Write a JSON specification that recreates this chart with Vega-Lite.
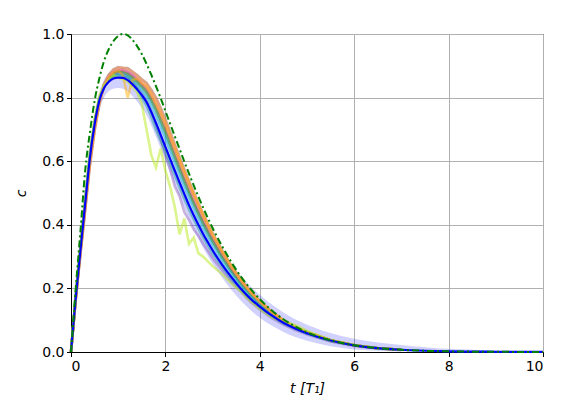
{
  "$schema": "https://vega.github.io/schema/vega-lite/v6.json",
  "width": 472,
  "height": 318,
  "autosize": "none",
  "padding": {"left": 71, "top": 34, "right": 43, "bottom": 51},
  "background": "white",
  "config": {
    "font": "DejaVu Sans",
    "view": {"stroke": "black", "strokeWidth": 1},
    "axis": {
      "domainColor": "black", "tickColor": "black", "tickSize": 4.5, "labelPadding": 2.5,
      "labelFontSize": 14, "labelColor": "black", "titleFontSize": 14, "titleColor": "black",
      "titleFontWeight": "normal", "titleFontStyle": "italic",
      "gridColor": "#b0b0b0", "gridWidth": 1, "gridOpacity": 1
    }
  },
  "datasets": {
    "m": [
      {"t":0,"g":0,"b":0,"lo":0,"hi":0,"a":0,"o":0,"r":0,"d":0,"c":0,"y":0,"n":0,"p":0,"v":0,"u":0,"e":0},
      {"t":0.05,"g":0.10,"b":0.085,"lo":0.078,"hi":0.092,"a":0.083,"o":0.082,"r":0.081,"d":0.084,"c":0.087,"y":0.085,"n":0.086,"p":0.088,"v":0.09,"u":0.084,"e":0.087},
      {"t":0.1,"g":0.20,"b":0.17,"lo":0.158,"hi":0.182,"a":0.166,"o":0.164,"r":0.163,"d":0.168,"c":0.173,"y":0.17,"n":0.171,"p":0.176,"v":0.18,"u":0.167,"e":0.174},
      {"t":0.15,"g":0.29,"b":0.245,"lo":0.23,"hi":0.26,"a":0.24,"o":0.237,"r":0.236,"d":0.243,"c":0.249,"y":0.245,"n":0.247,"p":0.252,"v":0.258,"u":0.241,"e":0.25},
      {"t":0.2,"g":0.38,"b":0.32,"lo":0.30,"hi":0.34,"a":0.313,"o":0.309,"r":0.307,"d":0.316,"c":0.325,"y":0.32,"n":0.322,"p":0.33,"v":0.336,"u":0.314,"e":0.326},
      {"t":0.3,"g":0.57,"b":0.465,"lo":0.44,"hi":0.49,"a":0.452,"o":0.447,"r":0.445,"d":0.458,"c":0.472,"y":0.463,"n":0.467,"p":0.478,"v":0.485,"u":0.455,"e":0.474},
      {"t":0.4,"g":0.69,"b":0.61,"lo":0.58,"hi":0.635,"a":0.595,"o":0.588,"r":0.585,"d":0.602,"c":0.617,"y":0.608,"n":0.612,"p":0.622,"v":0.63,"u":0.598,"e":0.62},
      {"t":0.5,"g":0.79,"b":0.715,"lo":0.685,"hi":0.74,"a":0.703,"o":0.697,"r":0.695,"d":0.709,"c":0.722,"y":0.714,"n":0.718,"p":0.725,"v":0.735,"u":0.705,"e":0.724},
      {"t":0.6,"g":0.86,"b":0.79,"lo":0.76,"hi":0.815,"a":0.784,"o":0.781,"r":0.779,"d":0.788,"c":0.795,"y":0.79,"n":0.793,"p":0.797,"v":0.805,"u":0.785,"e":0.797},
      {"t":0.7,"g":0.915,"b":0.83,"lo":0.80,"hi":0.855,"a":0.837,"o":0.841,"r":0.842,"d":0.836,"c":0.834,"y":0.835,"n":0.836,"p":0.835,"v":0.84,"u":0.832,"e":0.836},
      {"t":0.8,"g":0.952,"b":0.85,"lo":0.82,"hi":0.877,"a":0.866,"o":0.869,"r":0.871,"d":0.863,"c":0.857,"y":0.861,"n":0.86,"p":0.858,"v":0.853,"u":0.862,"e":0.857},
      {"t":0.9,"g":0.978,"b":0.86,"lo":0.828,"hi":0.888,"a":0.883,"o":0.887,"r":0.889,"d":0.879,"c":0.868,"y":0.875,"n":0.874,"p":0.87,"v":0.871,"u":0.878,"e":0.866},
      {"t":1.0,"g":0.994,"b":0.863,"lo":0.83,"hi":0.892,"a":0.891,"o":0.894,"r":0.896,"d":0.885,"c":0.873,"y":0.881,"n":0.88,"p":0.876,"v":0.862,"u":0.885,"e":0.87},
      {"t":1.1,"g":1.0,"b":0.862,"lo":0.828,"hi":0.893,"a":0.889,"o":0.893,"r":0.894,"d":0.886,"c":0.872,"y":0.878,"n":0.879,"p":0.874,"v":0.858,"u":0.87,"e":0.868},
      {"t":1.2,"g":0.996,"b":0.855,"lo":0.82,"hi":0.888,"a":0.886,"o":0.889,"r":0.893,"d":0.88,"c":0.867,"y":0.874,"n":0.873,"p":0.866,"v":0.85,"u":0.80,"e":0.862},
      {"t":1.3,"g":0.982,"b":0.842,"lo":0.805,"hi":0.878,"a":0.876,"o":0.881,"r":0.882,"d":0.87,"c":0.855,"y":0.864,"n":0.861,"p":0.852,"v":0.835,"u":0.855,"e":0.848},
      {"t":1.4,"g":0.962,"b":0.826,"lo":0.788,"hi":0.864,"a":0.864,"o":0.869,"r":0.871,"d":0.857,"c":0.84,"y":0.851,"n":0.848,"p":0.834,"v":0.818,"u":0.86,"e":0.828},
      {"t":1.5,"g":0.937,"b":0.808,"lo":0.768,"hi":0.847,"a":0.851,"o":0.855,"r":0.858,"d":0.843,"c":0.822,"y":0.836,"n":0.833,"p":0.814,"v":0.78,"u":0.845,"e":0.80},
      {"t":1.6,"g":0.906,"b":0.786,"lo":0.745,"hi":0.826,"a":0.837,"o":0.843,"r":0.846,"d":0.828,"c":0.804,"y":0.82,"n":0.815,"p":0.79,"v":0.70,"u":0.835,"e":0.775},
      {"t":1.7,"g":0.872,"b":0.755,"lo":0.713,"hi":0.797,"a":0.815,"o":0.821,"r":0.825,"d":0.804,"c":0.776,"y":0.795,"n":0.79,"p":0.756,"v":0.62,"u":0.81,"e":0.74},
      {"t":1.8,"g":0.836,"b":0.72,"lo":0.677,"hi":0.763,"a":0.788,"o":0.796,"r":0.80,"d":0.776,"c":0.744,"y":0.764,"n":0.762,"p":0.715,"v":0.58,"u":0.78,"e":0.70},
      {"t":1.9,"g":0.798,"b":0.683,"lo":0.64,"hi":0.727,"a":0.755,"o":0.763,"r":0.768,"d":0.742,"c":0.709,"y":0.73,"n":0.726,"p":0.67,"v":0.64,"u":0.75,"e":0.665},
      {"t":2.0,"g":0.758,"b":0.645,"lo":0.602,"hi":0.69,"a":0.719,"o":0.727,"r":0.732,"d":0.706,"c":0.672,"y":0.694,"n":0.689,"p":0.62,"v":0.57,"u":0.716,"e":0.63},
      {"t":2.1,"g":0.718,"b":0.607,"lo":0.563,"hi":0.652,"a":0.68,"o":0.689,"r":0.693,"d":0.667,"c":0.633,"y":0.654,"n":0.65,"p":0.575,"v":0.52,"u":0.678,"e":0.592},
      {"t":2.2,"g":0.678,"b":0.57,"lo":0.526,"hi":0.615,"a":0.641,"o":0.649,"r":0.653,"d":0.628,"c":0.595,"y":0.616,"n":0.611,"p":0.52,"v":0.455,"u":0.64,"e":0.555},
      {"t":2.3,"g":0.639,"b":0.533,"lo":0.489,"hi":0.578,"a":0.601,"o":0.609,"r":0.613,"d":0.589,"c":0.557,"y":0.577,"n":0.573,"p":0.49,"v":0.37,"u":0.602,"e":0.518},
      {"t":2.4,"g":0.599,"b":0.497,"lo":0.453,"hi":0.542,"a":0.564,"o":0.571,"r":0.575,"d":0.551,"c":0.521,"y":0.54,"n":0.536,"p":0.44,"v":0.42,"u":0.565,"e":0.483},
      {"t":2.5,"g":0.561,"b":0.462,"lo":0.418,"hi":0.507,"a":0.527,"o":0.534,"r":0.538,"d":0.515,"c":0.485,"y":0.503,"n":0.5,"p":0.415,"v":0.34,"u":0.53,"e":0.448},
      {"t":2.6,"g":0.524,"b":0.43,"lo":0.386,"hi":0.475,"a":0.491,"o":0.499,"r":0.502,"d":0.48,"c":0.452,"y":0.469,"n":0.466,"p":0.385,"v":0.36,"u":0.495,"e":0.418},
      {"t":2.7,"g":0.488,"b":0.40,"lo":0.356,"hi":0.445,"a":0.458,"o":0.465,"r":0.468,"d":0.448,"c":0.42,"y":0.437,"n":0.434,"p":0.365,"v":0.31,"u":0.462,"e":0.388},
      {"t":2.8,"g":0.454,"b":0.371,"lo":0.328,"hi":0.415,"a":0.426,"o":0.432,"r":0.435,"d":0.416,"c":0.39,"y":0.406,"n":0.403,"p":0.34,"v":0.30,"u":0.429,"e":0.36},
      {"t":2.9,"g":0.421,"b":0.345,"lo":0.302,"hi":0.389,"a":0.395,"o":0.401,"r":0.404,"d":0.386,"c":0.363,"y":0.377,"n":0.374,"p":0.318,"v":0.285,"u":0.398,"e":0.335},
      {"t":3.0,"g":0.39,"b":0.32,"lo":0.278,"hi":0.363,"a":0.366,"o":0.371,"r":0.374,"d":0.358,"c":0.336,"y":0.349,"n":0.347,"p":0.295,"v":0.27,"u":0.368,"e":0.31},
      {"t":3.2,"g":0.333,"b":0.275,"lo":0.234,"hi":0.317,"a":0.313,"o":0.318,"r":0.32,"d":0.307,"c":0.288,"y":0.299,"n":0.297,"p":0.258,"v":0.245,"u":0.315,"e":0.268},
      {"t":3.4,"g":0.282,"b":0.235,"lo":0.195,"hi":0.276,"a":0.266,"o":0.27,"r":0.271,"d":0.26,"c":0.246,"y":0.255,"n":0.253,"p":0.22,"v":0.215,"u":0.268,"e":0.229},
      {"t":3.6,"g":0.237,"b":0.199,"lo":0.161,"hi":0.239,"a":0.224,"o":0.227,"r":0.228,"d":0.219,"c":0.208,"y":0.215,"n":0.213,"p":0.19,"v":0.19,"u":0.226,"e":0.195},
      {"t":3.8,"g":0.199,"b":0.168,"lo":0.132,"hi":0.207,"a":0.188,"o":0.19,"r":0.191,"d":0.184,"c":0.175,"y":0.181,"n":0.179,"p":0.158,"v":0.16,"u":0.189,"e":0.165},
      {"t":4.0,"g":0.166,"b":0.143,"lo":0.108,"hi":0.18,"a":0.158,"o":0.16,"r":0.161,"d":0.155,"c":0.148,"y":0.153,"n":0.152,"p":0.134,"v":0.135,"u":0.159,"e":0.14},
      {"t":4.25,"g":0.131,"b":0.115,"lo":0.083,"hi":0.15,"a":0.125,"o":0.127,"r":0.127,"d":0.123,"c":0.118,"y":0.121,"n":0.12,"p":0.107,"v":0.11,"u":0.126,"e":0.113},
      {"t":4.5,"g":0.103,"b":0.092,"lo":0.063,"hi":0.124,"a":0.099,"o":0.1,"r":0.1,"d":0.097,"c":0.094,"y":0.096,"n":0.096,"p":0.086,"v":0.095,"u":0.099,"e":0.09},
      {"t":4.75,"g":0.08,"b":0.074,"lo":0.047,"hi":0.103,"a":0.078,"o":0.079,"r":0.079,"d":0.077,"c":0.075,"y":0.077,"n":0.076,"p":0.069,"v":0.085,"u":0.078,"e":0.073},
      {"t":5.0,"g":0.062,"b":0.059,"lo":0.035,"hi":0.086,"a":0.061,"o":0.062,"r":0.062,"d":0.061,"c":0.06,"y":0.061,"n":0.06,"p":0.055,"v":0.066,"u":0.062,"e":0.058},
      {"t":5.5,"g":0.037,"b":0.036,"lo":0.018,"hi":0.06,"a":0.037,"o":0.037,"r":0.037,"d":0.036,"c":0.036,"y":0.036,"n":0.036,"p":0.033,"v":0.038,"u":0.037,"e":0.035},
      {"t":6.0,"g":0.021,"b":0.021,"lo":0.008,"hi":0.042,"a":0.021,"o":0.021,"r":0.021,"d":0.021,"c":0.021,"y":0.021,"n":0.021,"p":0.019,"v":0.022,"u":0.021,"e":0.021},
      {"t":6.5,"g":0.012,"b":0.012,"lo":0.004,"hi":0.03,"a":0.012,"o":0.012,"r":0.012,"d":0.012,"c":0.012,"y":0.012,"n":0.012,"p":0.011,"v":0.012,"u":0.012,"e":0.012},
      {"t":7.0,"g":0.0068,"b":0.007,"lo":0.002,"hi":0.022,"a":0.007,"o":0.007,"r":0.007,"d":0.007,"c":0.007,"y":0.007,"n":0.007,"p":0.006,"v":0.007,"u":0.007,"e":0.007},
      {"t":7.5,"g":0.0037,"b":0.004,"lo":0.001,"hi":0.015},
      {"t":8.0,"g":0.002,"b":0.002,"lo":0.0005,"hi":0.01},
      {"t":8.5,"g":0.0011,"b":0.0012,"lo":0.0002,"hi":0.007},
      {"t":9.0,"g":0.0006,"b":0.0007,"lo":0.0001,"hi":0.004},
      {"t":9.5,"g":0.0003,"b":0.0004,"lo":0,"hi":0.0025},
      {"t":10.0,"g":0.0002,"b":0.0002,"lo":0,"hi":0.0015}
    ]
  },
  "data": {"name": "m"},
  "layer": [
    {
      "mark": {"type": "area", "color": "#0000ff", "opacity": 0.18, "interpolate": "monotone"},
      "encoding": {
        "x": {"field": "t", "type": "quantitative", "scale": {"domain": [0, 10], "nice": false},
              "axis": {"values": [0, 2, 4, 6, 8, 10], "format": "d", "title": "t [T₁]", "titlePadding": 8}},
        "y": {"field": "lo", "type": "quantitative", "scale": {"domain": [0, 1], "nice": false},
              "axis": {"values": [0, 0.2, 0.4, 0.6, 0.8, 1.0], "format": ".1f", "title": "c", "titlePadding": 13}},
        "y2": {"field": "hi"}
      }
    },
    {
      "transform": [
        {"fold": ["r", "d", "y", "n", "p", "c", "e", "a", "o", "u", "v"], "as": ["s", "val"]},
        {"filter": "isValid(datum.val)"}
      ],
      "mark": {"type": "line", "strokeWidth": 2.6, "opacity": 0.5, "interpolate": "linear"},
      "encoding": {
        "x": {"field": "t", "type": "quantitative"},
        "y": {"field": "val", "type": "quantitative"},
        "color": {"field": "s", "type": "nominal", "legend": null,
          "scale": {"domain": ["r", "d", "y", "n", "p", "c", "e", "a", "o", "u", "v"],
                    "range": ["#8c564b", "#d62728", "#7f7f7f", "#2ca02c", "#9467bd", "#17becf", "#1f9e99", "#e377c2", "#ff9f4a", "#ffb000", "#b8ec1a"]}}
      }
    },
    {
      "mark": {"type": "line", "color": "#0000ff", "strokeWidth": 2.2, "interpolate": "monotone"},
      "encoding": {
        "x": {"field": "t", "type": "quantitative"},
        "y": {"field": "b", "type": "quantitative"}
      }
    },
    {
      "mark": {"type": "line", "color": "#008000", "strokeWidth": 2, "strokeDash": [7, 3, 2, 3], "interpolate": "monotone"},
      "encoding": {
        "x": {"field": "t", "type": "quantitative"},
        "y": {"field": "g", "type": "quantitative"}
      }
    }
  ]
}
